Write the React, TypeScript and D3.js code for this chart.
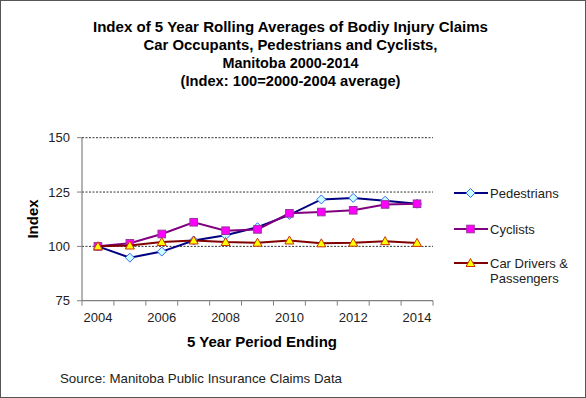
import React from 'react';
import * as d3 from 'd3';

const years = ['2004', '2005', '2006', '2007', '2008', '2009', '2010', '2011', '2012', '2013', '2014'];
const tickYears = ['2004', '2006', '2008', '2010', '2012', '2014'];
const yTicks = [75, 100, 125, 150];

const pedestrians = [100, 94.8, 97.6, 102.7, 105.1, 108.8, 114.5, 121.6, 122.3, 121.0, 119.6];
const cyclists = [100, 101.4, 105.7, 111.1, 107.2, 107.8, 115.2, 115.8, 116.6, 119.3, 119.6];
const carDrivers = [100, 100.4, 102.0, 102.7, 102.0, 101.7, 102.7, 101.4, 101.7, 102.4, 101.6];

const titleLines = [
    'Index of 5 Year Rolling Averages of Bodiy Injury Claims',
    'Car Occupants, Pedestrians and Cyclists,',
    'Manitoba 2000-2014',
    '(Index: 100=2000-2004 average)',
];

const font = 'Arial, "Liberation Sans", sans-serif';

const series = [
    { name: 'Pedestrians', values: pedestrians, line: '#000080', fill: '#CCFFFF', stroke: '#3366FF', shape: 'diamond' },
    { name: 'Cyclists', values: cyclists, line: '#800080', fill: '#FF00FF', stroke: '#993399', shape: 'square' },
    { name: 'Car Drivers & Passengers', values: carDrivers, line: '#800000', fill: '#FFFF00', stroke: '#CC3300', shape: 'triangle' },
];

const Marker = ({ shape, x, y, fill, stroke }) => {
    if (shape === 'diamond') {
        const r = 4.5;
        return <path d={`M${x},${y - r}L${x + r},${y}L${x},${y + r}L${x - r},${y}Z`} fill={fill} stroke={stroke} strokeWidth={1} />;
    }
    if (shape === 'square') {
        return <rect x={x - 3.8} y={y - 3.8} width={7.6} height={7.6} fill={fill} stroke={stroke} strokeWidth={1} />;
    }
    return <path d={`M${x},${y - 4.5}L${x + 4.5},${y + 3.5}L${x - 4.5},${y + 3.5}Z`} fill={fill} stroke={stroke} strokeWidth={1} />;
};

const App = () => {
    const W = 586, H = 398;
    const left = 82, right = 433, top = 137.7, bottom = 300.7;

    const x = d3.scaleBand().domain(years).range([left, right]).padding(0);
    const cx = (yr) => x(yr) + x.bandwidth() / 2;
    const y = d3.scaleLinear().domain([75, 150]).range([bottom, top]);

    const line = d3.line().x((d, i) => cx(years[i])).y(d => y(d));
    const boundaries = years.map(yr => x(yr)).concat([right]);

    return (
        <svg width={W} height={H} style={{ position: 'absolute', left: 0, top: 0 }}>
            <rect x={0.5} y={0.5} width={W - 1} height={H - 1} fill="white" stroke="#555" strokeWidth={1} />

            {titleLines.map((t, i) => (
                <text key={i} x={290.5} y={[31.5, 49.5, 67.5, 85.5][i]} textAnchor="middle" fontFamily={font} fontWeight="bold" fontSize={14}
                    textLength={[395, 294, 136, 220][i]} lengthAdjust="spacingAndGlyphs">{t}</text>
            ))}

            {/* gridlines */}
            {yTicks.filter(v => v > 75).map(v => (
                <line key={v} x1={left} x2={right} y1={y(v)} y2={y(v)} stroke="#333" strokeWidth={1} strokeDasharray="2,1.5" />
            ))}

            {/* axes */}
            <line x1={left} x2={left} y1={top} y2={bottom} stroke="#808080" strokeWidth={1.2} />
            <line x1={left} x2={right} y1={bottom} y2={bottom} stroke="#808080" strokeWidth={1.2} />
            {yTicks.map(v => (
                <g key={v}>
                    <line x1={left - 5} x2={left} y1={y(v)} y2={y(v)} stroke="#808080" />
                    <text x={70} y={y(v) + 4.5} textAnchor="end" fontFamily={font} fontSize={13} fill="#222">{v}</text>
                </g>
            ))}
            {boundaries.map((b, i) => (
                <line key={i} x1={b} x2={b} y1={bottom} y2={bottom + 5} stroke="#808080" />
            ))}
            {tickYears.map(yr => (
                <text key={yr} x={cx(yr)} y={322} textAnchor="middle" fontFamily={font} fontSize={13} fill="#222">{yr}</text>
            ))}

            <text transform={`translate(38,219) rotate(-90)`} textAnchor="middle" fontFamily={font} fontWeight="bold" fontSize={15}>Index</text>
            <text x={262} y={347} textAnchor="middle" fontFamily={font} fontWeight="bold" fontSize={15} textLength={150} lengthAdjust="spacingAndGlyphs">5 Year Period Ending</text>
            <text x={60} y={383} fontFamily={font} fontSize={13} fill="#222" textLength={282} lengthAdjust="spacingAndGlyphs">Source: Manitoba Public Insurance Claims Data</text>

            {/* series */}
            {series.map(s => (
                <g key={s.name}>
                    <path d={line(s.values)} fill="none" stroke={s.line} strokeWidth={2} />
                    {s.values.map((v, i) => (
                        <Marker key={i} shape={s.shape} x={cx(years[i])} y={y(v)} fill={s.fill} stroke={s.stroke} />
                    ))}
                </g>
            ))}

            {/* legend */}
            {series.map((s, i) => {
                const ly = [193, 229, 263][i];
                return (
                    <g key={s.name}>
                        <line x1={454} x2={488} y1={ly} y2={ly} stroke={s.line} strokeWidth={2} />
                        <Marker shape={s.shape} x={470.5} y={ly} fill={s.fill} stroke={s.stroke} />
                        {i < 2 ? (
                            <text x={490} y={ly + 4.5} fontFamily={font} fontSize={13} fill="#222">{s.name}</text>
                        ) : (
                            <text fontFamily={font} fontSize={13} fill="#222">
                                <tspan x={490} y={ly + 4.5}>Car Drivers &amp;</tspan>
                                <tspan x={490} y={ly + 19.5}>Passengers</tspan>
                            </text>
                        )}
                    </g>
                );
            })}
        </svg>
    );
};

export default App;
